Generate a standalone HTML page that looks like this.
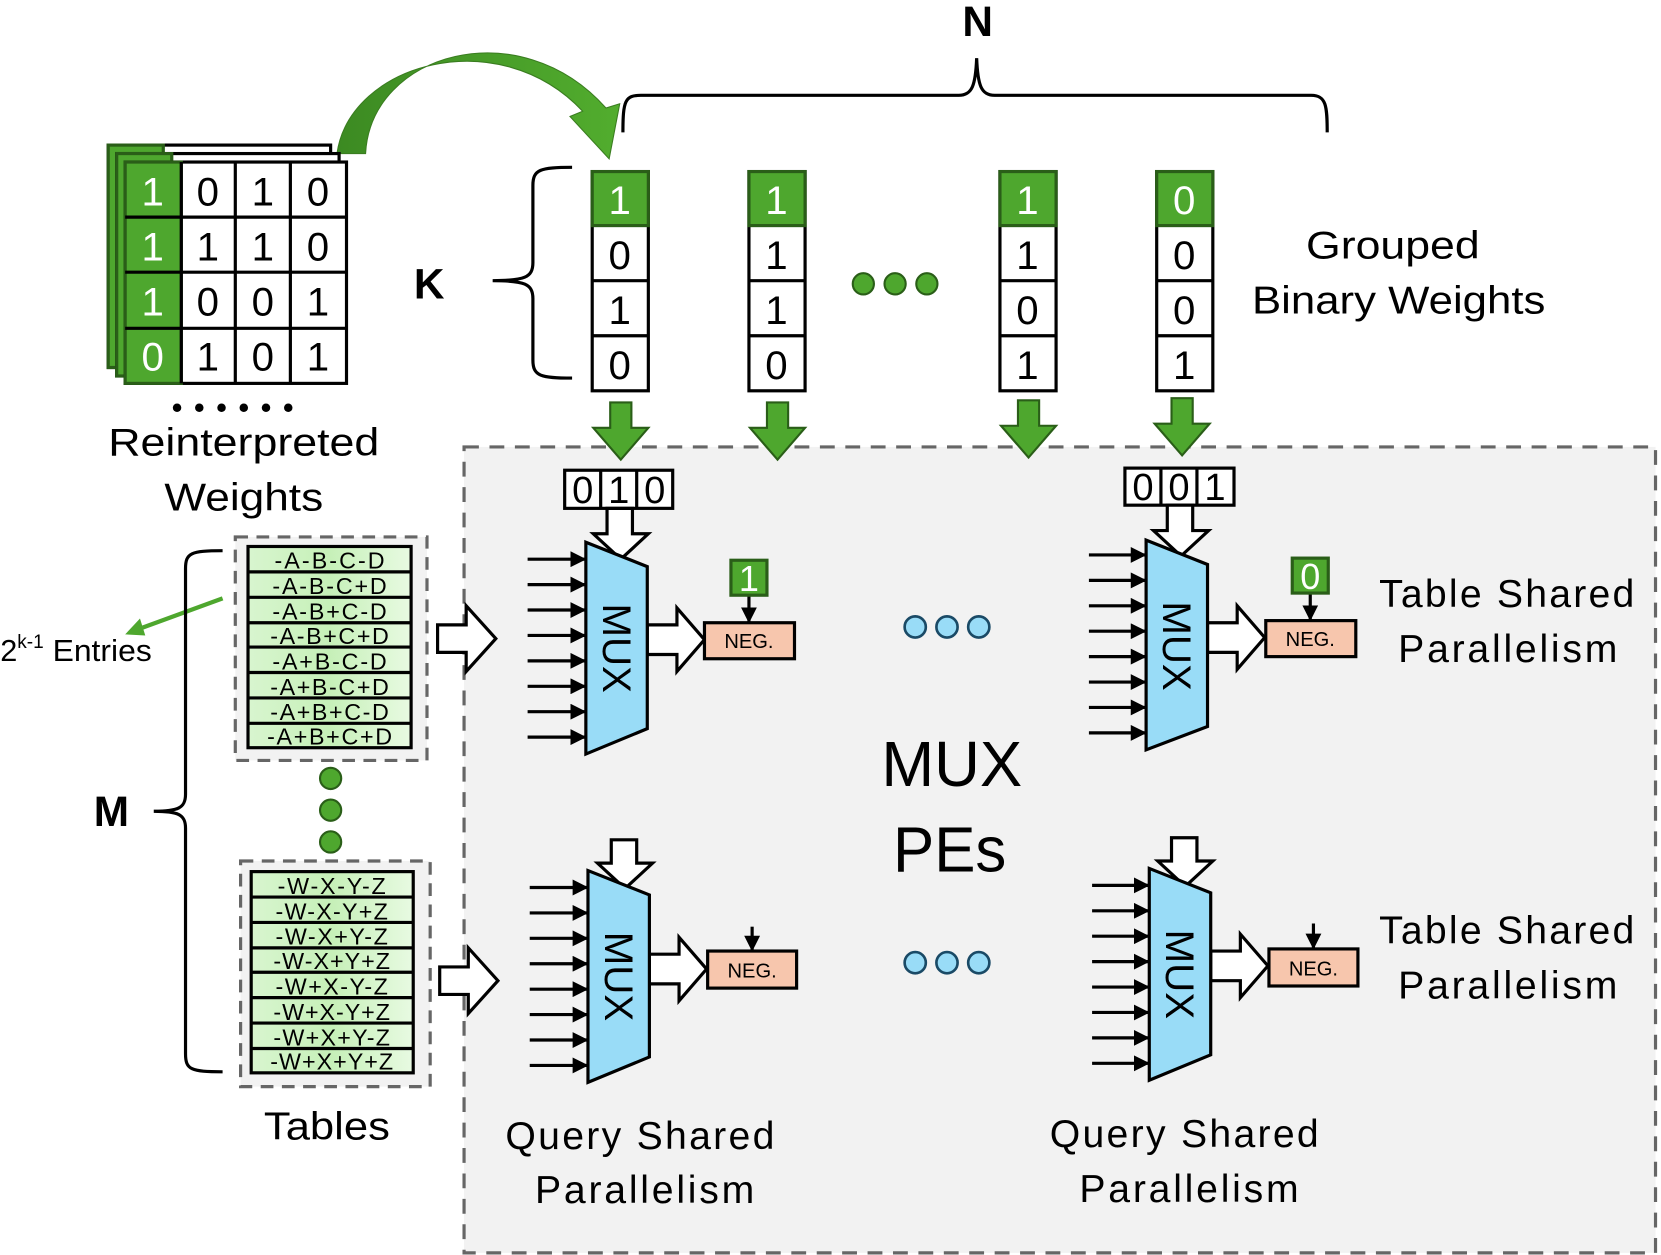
<!DOCTYPE html>
<html><head><meta charset="utf-8"><style>
html,body{margin:0;padding:0;background:#fff;}
svg{display:block;}
text{font-family:"Liberation Sans",sans-serif;}
</style></head><body>
<svg width="1661" height="1255" viewBox="0 0 1568 1185" xmlns="http://www.w3.org/2000/svg">
<defs>
<marker id="ah" viewBox="0 0 10 10" refX="9" refY="5" markerWidth="5" markerHeight="5" orient="auto"><path d="M0,0 L10,5 L0,10 z" fill="#000"/></marker>
<linearGradient id="tg" x1="0" x2="1"><stop offset="0" stop-color="#d8f5cf"/><stop offset="0.5" stop-color="#c6f0b8"/><stop offset="1" stop-color="#e8fae2"/></linearGradient>
<linearGradient id="ga" x1="0" x2="1"><stop offset="0" stop-color="#3c8a22"/><stop offset="1" stop-color="#52ad2e"/></linearGradient>
</defs>

<rect x="438" y="422" width="1125" height="761" fill="#f2f2f2" stroke="#666" stroke-width="3" stroke-dasharray="14,10"/>

<text x="923" y="34" font-size="40" font-weight="bold" text-anchor="middle">N</text>
<path d="M588,125 C588,95 590,90 605,90 L905,90 C918,90 921,80 922,55 C923,80 926,90 939,90 L1238,90 C1252,90 1253,100 1253,125" fill="none" stroke="#000" stroke-width="3"/>

<path d="M318,145 C330,60 470,20 550,105 L538,110 L575,150 L585,98 L572,102 C490,10 350,50 345,145 Z" fill="url(#ga)" stroke="#3a7d20" stroke-width="1"/>

<rect x="102" y="137" width="210" height="210" fill="#fff" stroke="#000" stroke-width="3"/>
<rect x="102" y="137" width="52" height="210" fill="#4ea72e" stroke="#2a5e18" stroke-width="3"/>
<rect x="110" y="145" width="210" height="210" fill="#fff" stroke="#000" stroke-width="3"/>
<rect x="110" y="145" width="52" height="210" fill="#4ea72e" stroke="#2a5e18" stroke-width="3"/>
<g stroke="#000" stroke-width="3">
<rect x="118" y="153" width="209" height="209" fill="#fff"/>
<rect x="118" y="153" width="53" height="209" fill="#4ea72e" stroke="#2a5e18"/>
<line x1="171" y1="153" x2="171" y2="362"/><line x1="222" y1="153" x2="222" y2="362"/><line x1="274" y1="153" x2="274" y2="362"/>
<line x1="118" y1="205" x2="327" y2="205"/><line x1="118" y1="257" x2="327" y2="257"/><line x1="118" y1="310" x2="327" y2="310"/>
</g>
<g font-size="38" text-anchor="middle">
<text x="144" y="194" fill="#fff">1</text><text x="196" y="194">0</text><text x="248" y="194">1</text><text x="300" y="194">0</text>
<text x="144" y="246" fill="#fff">1</text><text x="196" y="246">1</text><text x="248" y="246">1</text><text x="300" y="246">0</text>
<text x="144" y="298" fill="#fff">1</text><text x="196" y="298">0</text><text x="248" y="298">0</text><text x="300" y="298">1</text>
<text x="144" y="350" fill="#fff">0</text><text x="196" y="350">1</text><text x="248" y="350">0</text><text x="300" y="350">1</text>
</g>
<g fill="#000"><circle cx="167" cy="385" r="4"/><circle cx="188" cy="385" r="4"/><circle cx="209" cy="385" r="4"/><circle cx="230" cy="385" r="4"/><circle cx="251" cy="385" r="4"/><circle cx="272" cy="385" r="4"/></g>
<text x="102" y="430" font-size="37" textLength="256" lengthAdjust="spacingAndGlyphs">Reinterpreted</text>
<text x="155" y="482" font-size="37" textLength="150" lengthAdjust="spacingAndGlyphs">Weights</text>

<text x="405" y="282" font-size="40" font-weight="bold" text-anchor="middle">K</text>
<path d="M540,158 C510,158 503,160 503,175 L503,248 C503,262 495,265 465,265 C495,265 503,268 503,282 L503,340 C503,355 510,357 540,357" fill="none" stroke="#000" stroke-width="3"/>

<g stroke="#000" stroke-width="3">
<g><rect x="559" y="162" width="53" height="207" fill="#fff"/><rect x="559" y="162" width="53" height="51" fill="#4ea72e" stroke="#2a5e18"/><line x1="559" y1="265" x2="612" y2="265"/><line x1="559" y1="317" x2="612" y2="317"/></g>
<g transform="translate(148,0)"><rect x="559" y="162" width="53" height="207" fill="#fff"/><rect x="559" y="162" width="53" height="51" fill="#4ea72e" stroke="#2a5e18"/><line x1="559" y1="265" x2="612" y2="265"/><line x1="559" y1="317" x2="612" y2="317"/></g>
<g transform="translate(385,0)"><rect x="559" y="162" width="53" height="207" fill="#fff"/><rect x="559" y="162" width="53" height="51" fill="#4ea72e" stroke="#2a5e18"/><line x1="559" y1="265" x2="612" y2="265"/><line x1="559" y1="317" x2="612" y2="317"/></g>
<g transform="translate(533,0)"><rect x="559" y="162" width="53" height="207" fill="#fff"/><rect x="559" y="162" width="53" height="51" fill="#4ea72e" stroke="#2a5e18"/><line x1="559" y1="265" x2="612" y2="265"/><line x1="559" y1="317" x2="612" y2="317"/></g>
</g>
<g font-size="38" text-anchor="middle">
<text x="585" y="202" fill="#fff">1</text><text x="585" y="254">0</text><text x="585" y="306">1</text><text x="585" y="358">0</text>
<text x="733" y="202" fill="#fff">1</text><text x="733" y="254">1</text><text x="733" y="306">1</text><text x="733" y="358">0</text>
<text x="970" y="202" fill="#fff">1</text><text x="970" y="254">1</text><text x="970" y="306">0</text><text x="970" y="358">1</text>
<text x="1118" y="202" fill="#fff">0</text><text x="1118" y="254">0</text><text x="1118" y="306">0</text><text x="1118" y="358">1</text>
</g>
<g fill="#4ea72e" stroke="#2a5e18" stroke-width="2"><circle cx="815" cy="268" r="10"/><circle cx="845" cy="268" r="10"/><circle cx="875" cy="268" r="10"/></g>
<text x="1233" y="244" font-size="37" textLength="164" lengthAdjust="spacingAndGlyphs">Grouped</text>
<text x="1182" y="296" font-size="37" textLength="277" lengthAdjust="spacingAndGlyphs">Binary Weights</text>

<g fill="#4ea72e" stroke="#2a5e18" stroke-width="2">
<path d="M576,380 h20 v24 h16 l-26,30 l-26,-30 h16 z"/>
<path d="M724,380 h20 v24 h16 l-26,30 l-26,-30 h16 z"/>
<path d="M961,378 h20 v24 h16 l-26,30 l-26,-30 h16 z"/>
<path d="M1106,376 h20 v24 h16 l-26,30 l-26,-30 h16 z"/>
</g>

<g stroke="#000" stroke-width="3" fill="#fff">
<rect x="533" y="444" width="102" height="36"/><line x1="567" y1="444" x2="567" y2="480"/><line x1="601" y1="444" x2="601" y2="480"/>
<rect x="1062" y="442" width="103" height="35"/><line x1="1096" y1="442" x2="1096" y2="477"/><line x1="1130" y1="442" x2="1130" y2="477"/>
</g>
<g font-size="36" text-anchor="middle">
<text x="550" y="475">0</text><text x="584" y="475">1</text><text x="618" y="475">0</text>
<text x="1079" y="472">0</text><text x="1113" y="472">0</text><text x="1147" y="472">1</text>
</g>

<g fill="#fff" stroke="#000" stroke-width="3">
<path d="M573,480 h24 v24 h15 l-26,24 l-26,-24 h13 z"/>
<path d="M1102,477 h24 v24 h15 l-26,24 l-26,-24 h13 z"/>
<path d="M577,793 h24 v22 h15 l-26,24 l-26,-24 h13 z"/>
<path d="M1106,791 h24 v22 h15 l-26,24 l-26,-24 h13 z"/>
<path d="M413,590 h27 v-18 l28,31 l-28,31 v-18 h-27 z"/>
<path d="M415,913 h27 v-18 l28,31 l-28,31 v-18 h-27 z"/>
<path d="M611,590 h28 v-16 l26,30 l-26,30 v-16 h-28 z"/>
<path d="M613,901 h28 v-16 l26,30 l-26,30 v-16 h-28 z"/>
<path d="M1140,588 h28 v-16 l26,30 l-26,30 v-16 h-28 z"/>
<path d="M1143,898 h28 v-16 l26,30 l-26,30 v-16 h-28 z"/>
</g>

<g fill="#99dcf7" stroke="#000" stroke-width="3">
<path d="M553,512 L611,535 L611,688 L553,712 Z"/>
<path d="M555,822 L613,845 L613,998 L555,1022 Z"/>
<path d="M1082,510 L1140,533 L1140,686 L1082,708 Z"/>
<path d="M1085,820 L1143,843 L1143,996 L1085,1020 Z"/>
</g>
<g font-size="38" text-anchor="middle">
<text transform="translate(569,612) rotate(90)">MUX</text>
<text transform="translate(571,922) rotate(90)">MUX</text>
<text transform="translate(1098,610) rotate(90)">MUX</text>
<text transform="translate(1101,920) rotate(90)">MUX</text>
</g>
<g stroke="#000" stroke-width="3" marker-end="url(#ah)">
<line x1="498" y1="528" x2="552" y2="528"/><line x1="498" y1="552" x2="552" y2="552"/><line x1="498" y1="576" x2="552" y2="576"/><line x1="498" y1="600" x2="552" y2="600"/><line x1="498" y1="624" x2="552" y2="624"/><line x1="498" y1="648" x2="552" y2="648"/><line x1="498" y1="672" x2="552" y2="672"/><line x1="498" y1="696" x2="552" y2="696"/>
<line x1="500" y1="838" x2="554" y2="838"/><line x1="500" y1="862" x2="554" y2="862"/><line x1="500" y1="886" x2="554" y2="886"/><line x1="500" y1="910" x2="554" y2="910"/><line x1="500" y1="934" x2="554" y2="934"/><line x1="500" y1="958" x2="554" y2="958"/><line x1="500" y1="982" x2="554" y2="982"/><line x1="500" y1="1006" x2="554" y2="1006"/>
<line x1="1028" y1="524" x2="1081" y2="524"/><line x1="1028" y1="548" x2="1081" y2="548"/><line x1="1028" y1="572" x2="1081" y2="572"/><line x1="1028" y1="596" x2="1081" y2="596"/><line x1="1028" y1="620" x2="1081" y2="620"/><line x1="1028" y1="644" x2="1081" y2="644"/><line x1="1028" y1="668" x2="1081" y2="668"/><line x1="1028" y1="692" x2="1081" y2="692"/>
<line x1="1031" y1="836" x2="1084" y2="836"/><line x1="1031" y1="860" x2="1084" y2="860"/><line x1="1031" y1="884" x2="1084" y2="884"/><line x1="1031" y1="908" x2="1084" y2="908"/><line x1="1031" y1="932" x2="1084" y2="932"/><line x1="1031" y1="956" x2="1084" y2="956"/><line x1="1031" y1="980" x2="1084" y2="980"/><line x1="1031" y1="1004" x2="1084" y2="1004"/>
<line x1="707" y1="562" x2="707" y2="587"/><line x1="1237" y1="560" x2="1237" y2="585"/>
<line x1="710" y1="875" x2="710" y2="897"/><line x1="1240" y1="872" x2="1240" y2="895"/>
</g>

<g fill="#f7c6ad" stroke="#000" stroke-width="3">
<rect x="665" y="588" width="85" height="34"/><rect x="1195" y="586" width="85" height="34"/>
<rect x="668" y="898" width="84" height="35"/><rect x="1198" y="896" width="84" height="35"/>
</g>
<g font-size="19" text-anchor="middle">
<text x="707" y="612">NEG.</text><text x="1237" y="610">NEG.</text><text x="710" y="923">NEG.</text><text x="1240" y="921">NEG.</text>
</g>
<g fill="#4ea72e" stroke="#2a5e18" stroke-width="3"><rect x="690" y="529" width="34" height="33"/><rect x="1220" y="527" width="34" height="33"/></g>
<text x="707" y="558" font-size="34" fill="#fff" text-anchor="middle">1</text>
<text x="1237" y="556" font-size="34" fill="#fff" text-anchor="middle">0</text>

<g fill="#99dcf7" stroke="#1a4a66" stroke-width="2.5">
<circle cx="864" cy="592" r="10"/><circle cx="894" cy="592" r="10"/><circle cx="924" cy="592" r="10"/>
<circle cx="864" cy="909" r="10"/><circle cx="894" cy="909" r="10"/><circle cx="924" cy="909" r="10"/>
</g>
<text x="832" y="742" font-size="60" textLength="133" lengthAdjust="spacingAndGlyphs">MUX</text>
<text x="843" y="823" font-size="60" textLength="107" lengthAdjust="spacingAndGlyphs">PEs</text>
<g font-size="37" lengthAdjust="spacingAndGlyphs">
<text x="1302" y="573" textLength="241">Table Shared</text><text x="1320" y="625" textLength="207">Parallelism</text>
<text x="1302" y="891" textLength="241">Table Shared</text><text x="1320" y="943" textLength="207">Parallelism</text>
<text x="477" y="1085" textLength="254">Query Shared</text><text x="505" y="1136" textLength="207">Parallelism</text>
<text x="991" y="1083" textLength="254">Query Shared</text><text x="1019" y="1135" textLength="207">Parallelism</text>
</g>

<rect x="222" y="507" width="181" height="211" fill="#f2f2f2" stroke="#666" stroke-width="3" stroke-dasharray="12,8"/>
<rect x="227" y="813" width="179" height="213" fill="#f2f2f2" stroke="#666" stroke-width="3" stroke-dasharray="12,8"/>
<g stroke="#000" stroke-width="3" fill="url(#tg)">
<rect x="234" y="516" width="154" height="190"/>
<rect x="237" y="823" width="153" height="190"/>
</g>
<g stroke="#000" stroke-width="3">
<line x1="234" y1="540" x2="388" y2="540"/><line x1="234" y1="564" x2="388" y2="564"/><line x1="234" y1="588" x2="388" y2="588"/><line x1="234" y1="611" x2="388" y2="611"/><line x1="234" y1="635" x2="388" y2="635"/><line x1="234" y1="659" x2="388" y2="659"/><line x1="234" y1="683" x2="388" y2="683"/>
<line x1="237" y1="847" x2="390" y2="847"/><line x1="237" y1="871" x2="390" y2="871"/><line x1="237" y1="895" x2="390" y2="895"/><line x1="237" y1="918" x2="390" y2="918"/><line x1="237" y1="942" x2="390" y2="942"/><line x1="237" y1="966" x2="390" y2="966"/><line x1="237" y1="990" x2="390" y2="990"/>
</g>
<g font-size="22" lengthAdjust="spacingAndGlyphs">
<text x="259" y="537" textLength="104">-A-B-C-D</text><text x="257" y="561" textLength="108">-A-B-C+D</text><text x="257" y="585" textLength="108">-A-B+C-D</text><text x="255" y="608" textLength="112">-A-B+C+D</text><text x="257" y="632" textLength="108">-A+B-C-D</text><text x="255" y="656" textLength="112">-A+B-C+D</text><text x="255" y="680" textLength="112">-A+B+C-D</text><text x="252" y="703" textLength="118">-A+B+C+D</text>
<text x="262" y="844" textLength="102">-W-X-Y-Z</text><text x="260" y="868" textLength="106">-W-X-Y+Z</text><text x="260" y="892" textLength="106">-W-X+Y-Z</text><text x="258" y="915" textLength="110">-W-X+Y+Z</text><text x="260" y="939" textLength="106">-W+X-Y-Z</text><text x="258" y="963" textLength="110">-W+X-Y+Z</text><text x="258" y="987" textLength="110">-W+X+Y-Z</text><text x="255" y="1010" textLength="116">-W+X+Y+Z</text>
</g>
<g fill="#4ea72e" stroke="#2a5e18" stroke-width="2"><circle cx="312" cy="735" r="10"/><circle cx="312" cy="765" r="10"/><circle cx="312" cy="795" r="10"/></g>
<text x="249" y="1076" font-size="37" textLength="119" lengthAdjust="spacingAndGlyphs">Tables</text>

<line x1="210" y1="565" x2="128" y2="595" stroke="#4ea72e" stroke-width="4"/>
<path d="M118,599 L132,584 L137,600 Z" fill="#4ea72e"/>
<text x="0" y="624" font-size="29">2<tspan font-size="18" dy="-12">k-1</tspan><tspan dy="12" textLength="102" lengthAdjust="spacingAndGlyphs"> Entries</tspan></text>

<text x="105" y="780" font-size="40" font-weight="bold" text-anchor="middle">M</text>
<path d="M210,520 C180,520 175,522 175,537 L175,750 C175,763 168,766 145,766 C168,766 175,769 175,782 L175,995 C175,1010 180,1012 210,1012" fill="none" stroke="#000" stroke-width="3"/>
</svg>
</body></html>
